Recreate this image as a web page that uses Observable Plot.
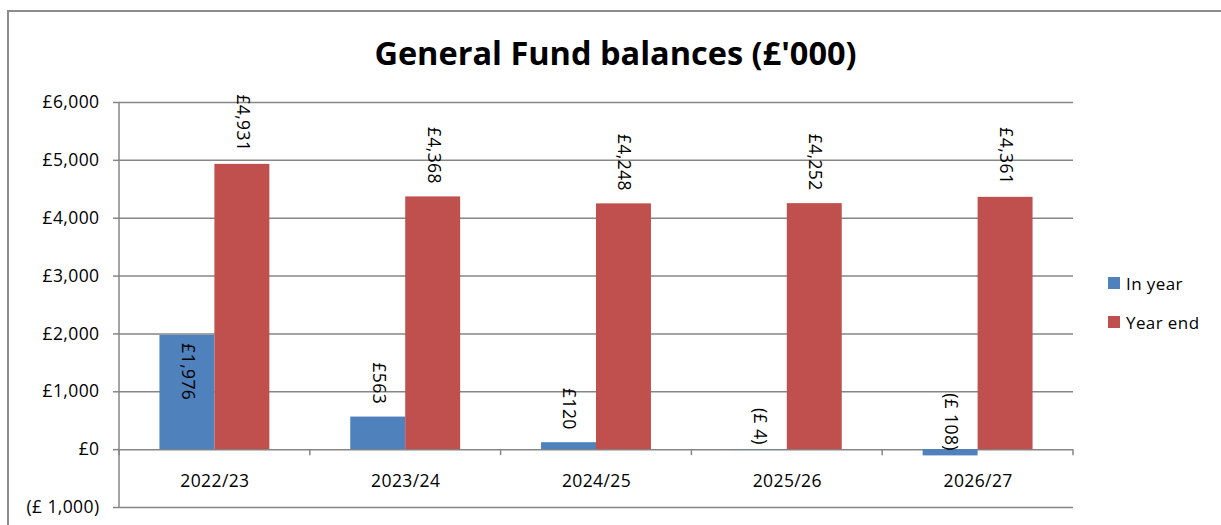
<!DOCTYPE html>
<html>
<head>
<meta charset="utf-8">
<script src="https://cdn.jsdelivr.net/npm/d3@7"></script>
<script src="https://cdn.jsdelivr.net/npm/@observablehq/plot@0.6"></script>
<style>
  html, body { margin: 0; padding: 0; background: #fff; }
  #wrap { position: relative; width: 1221px; height: 525px; overflow: hidden; font-family: "Open Sans", sans-serif; }
  #box { position: absolute; left: 7px; top: 10px; width: 1400px; height: 700px; border-top: 2px solid #8c8c8c; border-left: 2px solid #8c8c8c; box-sizing: border-box; }
  #title { position: relative; height: 80px; box-sizing: border-box; padding-top: 37px; margin-left: 7px; width: 1217px; text-align: center; font: bold 32.5px/1 "Open Sans", sans-serif; color: #000; white-space: nowrap; }
  #chart { position: relative; }
  #legend { position: absolute; left: 1108px; top: 272px; font: 17px "Open Sans", sans-serif; color: #000; letter-spacing: 0.4px; }
  #legend .item { display: flex; align-items: center; height: 22px; margin-bottom: 17px; }
  #legend .sw { width: 12px; height: 12px; margin-right: 6px; }
</style>
</head>
<body>
<div id="wrap">
  <div id="box"></div>
  <div id="title">General Fund balances (£'000)</div>
  <div id="chart"></div>
  <div id="legend"></div>
</div>
<script>
// ---- data ----
const years = ["2022/23", "2023/24", "2024/25", "2025/26", "2026/27"];
const inYear = [1976, 563, 120, -4, -108];
const yearEnd = [4931, 4368, 4248, 4252, 4361];
const seriesNames = ["In year", "Year end"];
const seriesColors = ["#4F81BD", "#C0504D"];
const yTicks = [-1000, 0, 1000, 2000, 3000, 4000, 5000, 6000];

// ---- table built from arrays ----
const rowsIn = years.map((y, i) => ({year: y, value: inYear[i], series: seriesNames[0]}));
const rowsEnd = years.map((y, i) => ({year: y, value: yearEnd[i], series: seriesNames[1]}));

const fmt = v => v < 0 ? "(£ " + d3.format(",")(Math.abs(v)) + ")" : "£" + d3.format(",")(v);

const W = 1221, H = 445;
const mL = 119, mR = 148, mT = 22, mB = 18;
const gridColor = "#868686";
const bw = (W - mL - mR) / years.length;
const barW = bw * 0.288;
const outer = (bw - 2 * barW) / 2;
const FS = 17.5;

function boundaryTicks(index, scales, values, dims) {
  const {x, y} = scales;
  const g = d3.create("svg:g").attr("stroke", gridColor).attr("stroke-width", 1.5).attr("fill", "none");
  const dom = x.domain();
  const xs = dom.map(d => x(d)).concat([x(dom[dom.length - 1]) + x.bandwidth()]);
  g.selectAll("line.b").data(xs).join("line").attr("class", "b")
    .attr("x1", d => d).attr("x2", d => d)
    .attr("y1", y(0)).attr("y2", y(0) + 6);
  g.append("line")
    .attr("x1", dims.marginLeft).attr("x2", dims.marginLeft)
    .attr("y1", dims.marginTop).attr("y2", dims.height - dims.marginBottom);
  return g.node();
}

const chart = Plot.plot({
  width: W,
  height: H,
  marginLeft: mL,
  marginRight: mR,
  marginTop: mT,
  marginBottom: mB,
  style: {fontFamily: "'Open Sans', sans-serif", fontSize: FS + "px", color: "#000", background: "transparent", letterSpacing: "0.4px"},
  x: {domain: years, padding: 0, round: false, axis: null, label: null},
  y: {domain: [-1000, 6000], axis: null, label: null},
  marks: [
    Plot.gridY({ticks: yTicks, stroke: gridColor, strokeOpacity: 1, strokeWidth: 1.5}),
    Plot.barY(rowsIn, {x: "year", y: "value", fill: seriesColors[0], insetLeft: outer, insetRight: outer + barW}),
    Plot.barY(rowsEnd, {x: "year", y: "value", fill: seriesColors[1], insetLeft: outer + barW, insetRight: outer}),
    boundaryTicks,
    Plot.axisY({ticks: yTicks, tickFormat: fmt, tickSize: 6, tickPadding: 14, stroke: gridColor, strokeWidth: 1.5, fontSize: FS, label: null}),
    Plot.axisX({anchor: "bottom", tickSize: 0, tickPadding: 0, dy: -33, fontSize: FS, label: null}),
    // year-end labels, above bars
    Plot.text(rowsEnd, {x: "year", y: "value", text: d => fmt(d.value), rotate: 90, textAnchor: "end", dx: barW / 2, dy: -13, fontSize: FS, fill: "#000"}),
    // in-year labels
    Plot.text(rowsIn.filter(d => d.value >= 1000), {x: "year", y: "value", text: d => fmt(d.value), rotate: 90, textAnchor: "start", dx: -barW / 2, dy: 8, fontSize: FS, fill: "#000"}),
    Plot.text(rowsIn.filter(d => d.value >= 0 && d.value < 1000), {x: "year", y: "value", text: d => fmt(d.value), rotate: 90, textAnchor: "end", dx: -barW / 2, dy: -13, fontSize: FS, fill: "#000"}),
    Plot.text(rowsIn.filter(d => d.value < 0), {x: "year", y: "value", text: d => fmt(d.value), rotate: 90, textAnchor: "end", dx: -barW / 2, dy: -5, fontSize: FS, fill: "#000"})
  ]
});
document.getElementById("chart").appendChild(chart);

// legend
const leg = document.getElementById("legend");
seriesNames.forEach((name, i) => {
  const item = document.createElement("div");
  item.className = "item";
  const sw = document.createElement("span");
  sw.className = "sw";
  sw.style.background = seriesColors[i];
  const lab = document.createElement("span");
  lab.textContent = name;
  item.appendChild(sw);
  item.appendChild(lab);
  leg.appendChild(item);
});
</script>
</body>
</html>
